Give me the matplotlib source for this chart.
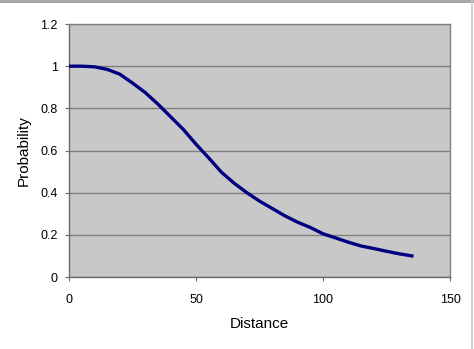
import matplotlib
matplotlib.use("Agg")
import matplotlib.pyplot as plt
from matplotlib.lines import Line2D

# values
distance = [0, 5, 10, 15, 20, 25, 30, 35, 40, 45, 50, 55, 60, 65, 70,
            75, 80, 85, 90, 95, 100, 105, 110, 115, 120, 125, 130, 135]
probability = [1.0, 1.0, 0.997, 0.985, 0.962, 0.92, 0.875, 0.82, 0.76, 0.70,
               0.63, 0.565, 0.497, 0.445, 0.40, 0.36, 0.325, 0.29, 0.26,
               0.235, 0.205, 0.185, 0.165, 0.147, 0.135, 0.122, 0.11, 0.10]

x_ticks = [0, 50, 100, 150]
y_ticks = [0, 0.2, 0.4, 0.6, 0.8, 1.0, 1.2]
y_tick_labels = ['0', '0.2', '0.4', '0.6', '0.8', '1', '1.2']

plt.rcParams['font.family'] = ['Liberation Sans', 'DejaVu Sans']

fig = plt.figure(figsize=(4.74, 3.49), dpi=100)
ax = fig.add_axes([0.1456, 0.2063, 0.8038, 0.7249])
ax.set_facecolor('#c8c8c8')

ax.plot(distance, probability, color='#000080', linewidth=2.4, zorder=3)

ax.set_xlim(0, 150)
ax.set_ylim(0, 1.2)
ax.set_xticks(x_ticks)
ax.set_yticks(y_ticks)
ax.set_yticklabels(y_tick_labels)
ax.yaxis.grid(True, color='#7f7f7f', linewidth=1)
ax.set_axisbelow(True)

for s in ax.spines.values():
    s.set_color('#808080')
    s.set_linewidth(1)
ax.spines['left'].set_color('#6a6a6a')
ax.spines['bottom'].set_color('#6a6a6a')

ax.tick_params(axis='both', direction='out', length=3, color='#6a6a6a',
               labelsize=9, labelcolor='black')
ax.tick_params(axis='x', pad=9)
ax.tick_params(axis='y', pad=5)

ax.set_xlabel('Distance', fontsize=11, labelpad=8)
ax.set_ylabel('Probability', fontsize=11, labelpad=7)

# frame remnants of the original chart border
fig.add_artist(Line2D([0, 1], [0.997, 0.997], transform=fig.transFigure,
                      color='#a0a0a0', linewidth=2))
fig.add_artist(Line2D([0.996, 0.996], [0, 1], transform=fig.transFigure,
                      color='#c8c8c8', linewidth=1.2))

fig.savefig('out.png', dpi=100)
